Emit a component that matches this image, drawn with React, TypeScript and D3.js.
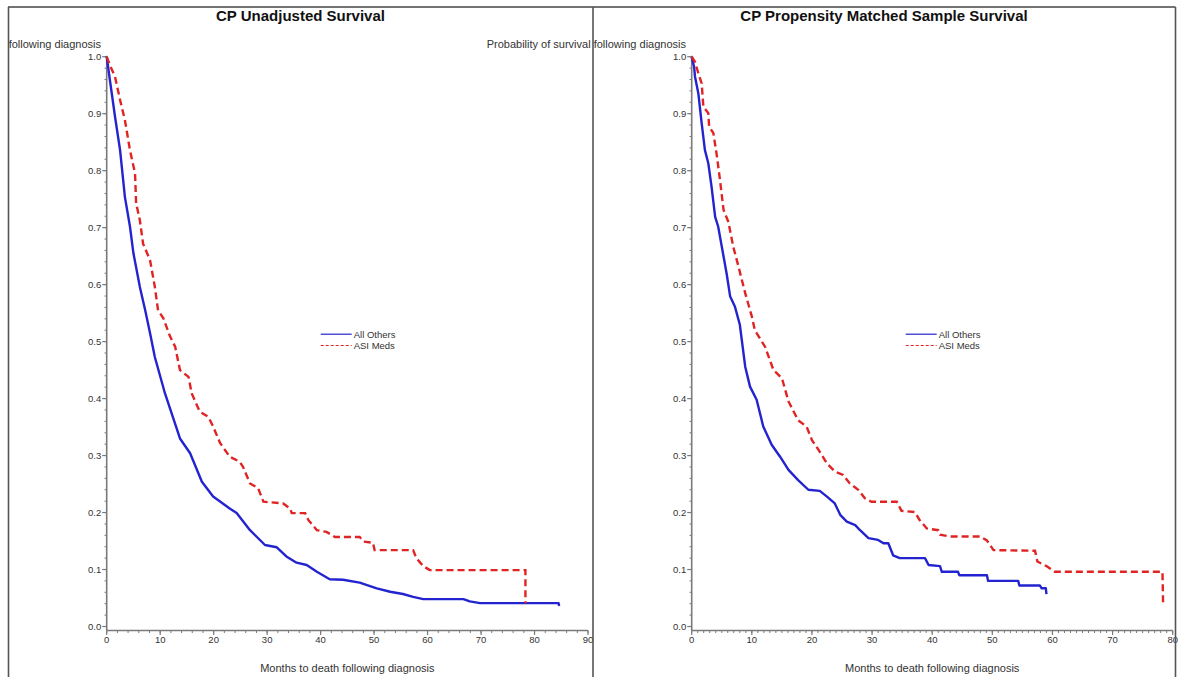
import React from 'react';
import * as d3 from 'd3';

const titles = ['CP Unadjusted Survival', 'CP Propensity Matched Sample Survival'];
// the left panel's y label is cut at the frame in the reference; only its visible part is shown
const yLabels = ['following diagnosis', 'Probability of survival following diagnosis'];
const xLabel = 'Months to death following diagnosis';
const seriesNames = ['All Others', 'ASI Meds'];
const yTickValues = [0, 0.1, 0.2, 0.3, 0.4, 0.5, 0.6, 0.7, 0.8, 0.9, 1.0];
const leftXTicks = [0, 10, 20, 30, 40, 50, 60, 70, 80, 90];
const rightXTicks = [0, 10, 20, 30, 40, 50, 60, 70, 80];

// Left panel: unadjusted
const leftOthersTime = [0, 0.6, 1.55, 2.5, 3.4, 4.35, 5, 6.2, 7.2, 8.1, 9.0, 10.9, 13.7, 15.6, 17.8, 19.9, 23.0, 24.3, 26.8, 29.6, 31.8, 33.6, 35.5, 37.4, 39.3, 41.7, 44.2, 47.3, 50.5, 53, 55.4, 57.3, 59.2, 66.7, 67.9, 69.8, 84.5, 84.6];
const leftOthersSurv = [1.0, 0.959, 0.895, 0.836, 0.754, 0.702, 0.655, 0.596, 0.555, 0.515, 0.473, 0.409, 0.33, 0.304, 0.254, 0.228, 0.207, 0.199, 0.169, 0.143, 0.139, 0.123, 0.112, 0.108, 0.096, 0.083, 0.082, 0.077, 0.067, 0.061, 0.057, 0.052, 0.048, 0.048, 0.044, 0.041, 0.041, 0.036];
const leftAsiTime = [0, 0.6, 1.55, 2.5, 3.4, 4.35, 5.3, 5.5, 6.2, 6.8, 8.1, 9.0, 9.6, 10.6, 11.8, 12.8, 13.7, 15.3, 15.9, 17.4, 19.0, 19.9, 21.2, 23.0, 24.9, 25.5, 26.8, 28.3, 29.3, 33.0, 34.3, 34.6, 37.1, 37.7, 39.3, 41.1, 42.7, 47.3, 48.0, 49.8, 50.1, 57.3, 57.9, 59.2, 60.4, 78.3, 78.3];
const leftAsiSurv = [1.0, 0.985, 0.965, 0.924, 0.889, 0.836, 0.795, 0.743, 0.713, 0.672, 0.643, 0.596, 0.555, 0.541, 0.51, 0.491, 0.45, 0.438, 0.409, 0.377, 0.368, 0.351, 0.322, 0.298, 0.289, 0.28, 0.251, 0.243, 0.219, 0.216, 0.207, 0.199, 0.199, 0.187, 0.169, 0.166, 0.157, 0.157, 0.149, 0.147, 0.134, 0.134, 0.12, 0.106, 0.099, 0.099, 0.041];

// Right panel: propensity matched
const rightOthersTime = [0, 0.4, 0.55, 1.1, 1.66, 2.2, 2.76, 3.3, 3.9, 4.4, 5.0, 5.8, 6.4, 7.2, 8.0, 8.9, 9.7, 10.8, 11.9, 13.3, 14.7, 16.1, 17.7, 19.4, 21.3, 22.5, 23.8, 24.7, 25.8, 27.2, 28.0, 29.4, 31.0, 31.9, 32.7, 33.5, 34.6, 38.8, 39.4, 41.3, 41.6, 44.3, 44.5, 49.1, 49.3, 54.3, 54.5, 57.9, 58.2, 58.9, 59.0];
const rightOthersSurv = [1.0, 0.982, 0.965, 0.936, 0.883, 0.836, 0.813, 0.772, 0.719, 0.702, 0.667, 0.62, 0.579, 0.561, 0.53, 0.456, 0.421, 0.398, 0.351, 0.319, 0.298, 0.275, 0.257, 0.24, 0.238, 0.228, 0.216, 0.196, 0.184, 0.178, 0.169, 0.155, 0.152, 0.146, 0.146, 0.125, 0.12, 0.12, 0.108, 0.106, 0.096, 0.096, 0.09, 0.09, 0.08, 0.08, 0.072, 0.072, 0.067, 0.067, 0.057];
const rightAsiTime = [0, 0.55, 1.1, 1.66, 1.94, 2.76, 2.9, 3.6, 4.2, 4.7, 5.3, 6.1, 6.9, 7.8, 8.9, 10.0, 10.5, 12.2, 13.6, 15.0, 16.1, 17.7, 19.1, 20.0, 21.1, 22.5, 23.8, 25.2, 26.3, 27.7, 28.8, 29.9, 34.1, 34.9, 37.1, 37.9, 39.1, 41.0, 41.3, 43.0, 48.0, 49.1, 50.2, 57.1, 57.5, 59.0, 60.4, 78.3, 78.4];
const rightAsiSurv = [1.0, 0.991, 0.971, 0.953, 0.912, 0.901, 0.877, 0.866, 0.825, 0.784, 0.731, 0.71, 0.667, 0.631, 0.585, 0.544, 0.52, 0.491, 0.45, 0.436, 0.395, 0.362, 0.351, 0.327, 0.31, 0.286, 0.272, 0.266, 0.251, 0.24, 0.225, 0.219, 0.219, 0.203, 0.201, 0.187, 0.172, 0.169, 0.161, 0.158, 0.158, 0.151, 0.134, 0.133, 0.114, 0.106, 0.096, 0.096, 0.041];

const FONT = '"Liberation Sans", Arial, sans-serif';
const BLUE = '#2323cf';
const RED = '#e02424';
const AXIS = '#7a7a7a';
const TXT = '#333';

const yScale = d3.scaleLinear().domain([0, 1]).range([626.5, 56.7]);
const X_AXIS_Y = 630.5;

type PanelProps = {
  idx: number;
  left: number;
  right: number;
  plotLeft: number;
  plotRight: number;
  xMax: number;
  xTicks: number[];
  minorStep: number;
  others: [number[], number[]];
  asi: [number[], number[]];
};

function Panel(p: PanelProps) {
  const x = d3.scaleLinear().domain([0, p.xMax]).range([p.plotLeft, p.plotRight]);
  const line = d3.line<[number, number]>().x(d => x(d[0])).y(d => yScale(d[1]));
  const toPts = (s: [number[], number[]]) => s[0].map((t, i) => [t, s[1][i]] as [number, number]);
  const yMinor = d3.range(0, 1.0001, 0.02);
  const xMinor = d3.range(0, p.xMax + 0.001, p.minorStep);
  const fmt = d3.format('.1f');
  const legX = p.plotLeft + 214;
  return (
    <g>
      <text x={(p.left + p.right) / 2} y={21} textAnchor="middle" fontFamily={FONT} fontWeight="bold" fontSize={15} fill="#111">
        {titles[p.idx]}
      </text>
      <text x={p.plotLeft - 5.7} y={48} textAnchor="end" fontFamily={FONT} fontSize={11} fill={TXT}>
        {yLabels[p.idx]}
      </text>
      {/* y axis */}
      <line x1={p.plotLeft} x2={p.plotLeft} y1={yScale(1) - 1} y2={X_AXIS_Y} stroke={AXIS} strokeWidth={1.6} />
      {yMinor.map((v, i) => (
        <line key={'ym' + i} x1={p.plotLeft - 2.2} x2={p.plotLeft} y1={yScale(v)} y2={yScale(v)} stroke={AXIS} strokeWidth={1} />
      ))}
      {yTickValues.map((v, i) => (
        <g key={'yt' + i}>
          <line x1={p.plotLeft - 4.5} x2={p.plotLeft} y1={yScale(v)} y2={yScale(v)} stroke={AXIS} strokeWidth={1.2} />
          <text x={p.plotLeft - 5.5} y={yScale(v) + 3.3} textAnchor="end" fontFamily={FONT} fontSize={9.5} fill={TXT}>
            {fmt(v)}
          </text>
        </g>
      ))}
      {/* x axis */}
      <line x1={p.plotLeft} x2={p.plotRight} y1={X_AXIS_Y} y2={X_AXIS_Y} stroke={AXIS} strokeWidth={1.6} />
      {xMinor.map((v, i) => (
        <line key={'xm' + i} x1={x(v)} x2={x(v)} y1={X_AXIS_Y} y2={X_AXIS_Y + 2.5} stroke={AXIS} strokeWidth={1} />
      ))}
      {p.xTicks.map((v, i) => (
        <g key={'xt' + i}>
          <line x1={x(v)} x2={x(v)} y1={X_AXIS_Y} y2={X_AXIS_Y + 4.5} stroke={AXIS} strokeWidth={1.2} />
          <text x={x(v)} y={643} textAnchor="middle" fontFamily={FONT} fontSize={9.5} fill={TXT}>
            {v}
          </text>
        </g>
      ))}
      <text x={(p.plotLeft + p.plotRight) / 2} y={672} textAnchor="middle" fontFamily={FONT} fontSize={11} fill={TXT}>
        {xLabel}
      </text>
      {/* curves */}
      <path d={line(toPts(p.others)) || ''} fill="none" stroke={BLUE} strokeWidth={2.4} strokeLinejoin="round" />
      <path d={line(toPts(p.asi)) || ''} fill="none" stroke={RED} strokeWidth={2.4} strokeDasharray="7,4" />
      {/* legend */}
      <line x1={legX} x2={legX + 31} y1={334.2} y2={334.2} stroke={BLUE} strokeWidth={1.2} />
      <text x={legX + 33} y={337.6} fontFamily={FONT} fontSize={9.5} fill={TXT}>{seriesNames[0]}</text>
      <line x1={legX} x2={legX + 31} y1={345.5} y2={345.5} stroke={RED} strokeWidth={1.2} strokeDasharray="3,2" />
      <text x={legX + 33} y={348.9} fontFamily={FONT} fontSize={9.5} fill={TXT}>{seriesNames[1]}</text>
    </g>
  );
}

export default function App() {
  return (
    <svg width={1178} height={677} style={{ position: 'absolute', left: 0, top: 0, background: '#fff' }}>
      <rect x={0} y={0} width={1178} height={677} fill="#fff" />
      <Panel idx={0} left={8} right={593} plotLeft={106.7} plotRight={588} xMax={90} xTicks={leftXTicks} minorStep={2}
        others={[leftOthersTime, leftOthersSurv]} asi={[leftAsiTime, leftAsiSurv]} />
      <Panel idx={1} left={593} right={1175} plotLeft={691.7} plotRight={1172.7} xMax={80} xTicks={rightXTicks} minorStep={1}
        others={[rightOthersTime, rightOthersSurv]} asi={[rightAsiTime, rightAsiSurv]} />
      {/* panel frames */}
      <line x1={8} x2={1175.5} y1={7} y2={7} stroke="#444" strokeWidth={1.6} />
      <line x1={8.5} x2={8.5} y1={7} y2={677} stroke="#555" strokeWidth={1.6} />
      <line x1={593} x2={593} y1={7} y2={677} stroke="#555" strokeWidth={1.6} />
      <line x1={1175.5} x2={1175.5} y1={7} y2={677} stroke="#555" strokeWidth={1.6} />
    </svg>
  );
}
